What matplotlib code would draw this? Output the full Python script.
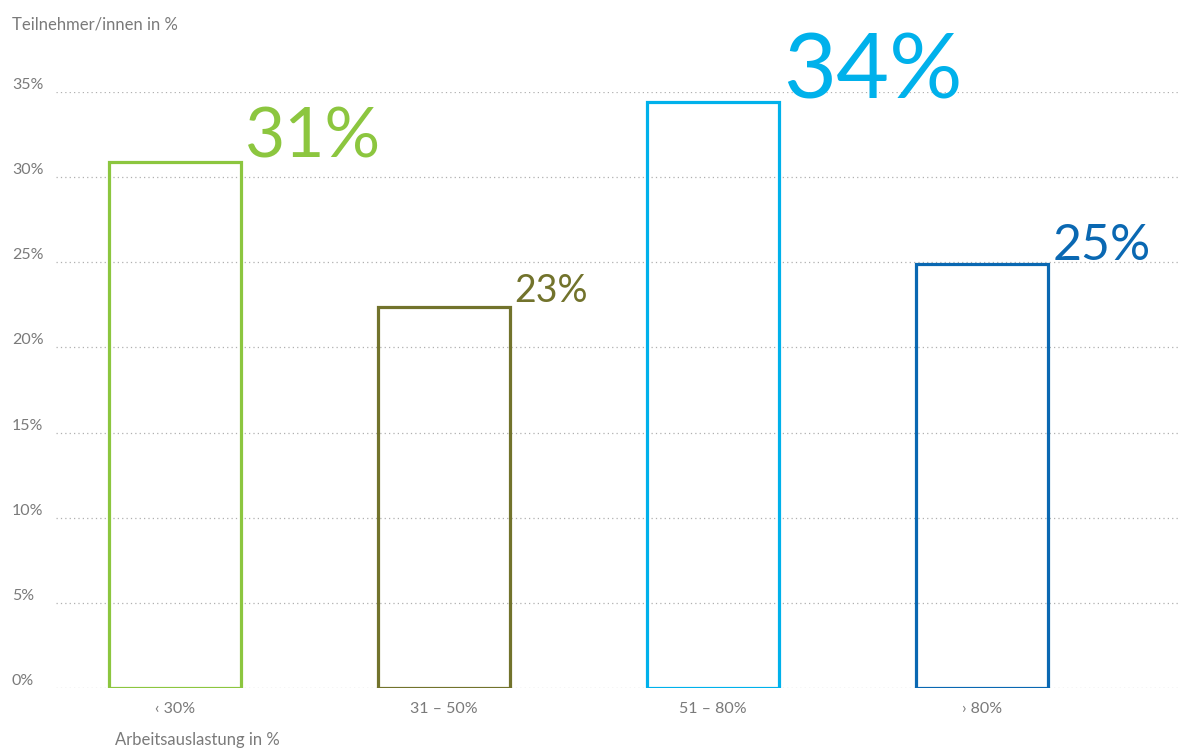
import numpy as np
import matplotlib.pyplot as plt

categories = ['‹ 30%', '31 – 50%', '51 – 80%', '› 80%']
values = [30.9, 22.4, 34.4, 24.9]
value_labels = ['31%', '23%', '34%', '25%']
label_sizes = [50, 27, 66, 36]
colors = ['#8cc63f', '#72732c', '#00b1eb', '#0a68b2']
yticks = [0, 5, 10, 15, 20, 25, 30, 35]

plt.rcParams['font.family'] = ['Lato', 'DejaVu Sans']
grey = '#7a7a7a'

fig = plt.figure(figsize=(11.79, 7.49), dpi=100)
ax = fig.add_axes([56 / 1179, 61 / 749, 1 - 56 / 1179, 596 / 749])

x = np.arange(len(categories))
width = 0.49
ax.bar(x, values, width=width, facecolor='none', edgecolor=colors, linewidth=2.3, zorder=3)

# Werte rechts oben neben den Balken
for xi, v, lab, s, c in zip(x, values, value_labels, label_sizes, colors):
    ax.annotate(lab, (xi + width / 2, v), xytext=(3, 3), textcoords='offset points',
                ha='left', va='baseline', fontsize=s, color=c, fontweight='normal')

ax.set_xlim(-0.442, 3.732)
ax.set_ylim(0, 35)
ax.set_yticks(yticks)
ax.set_yticklabels([f'{t}%' for t in yticks])
ax.set_xticks(x)
ax.set_xticklabels(categories)
ax.tick_params(axis='both', length=0, colors=grey, labelsize=11.5)
ax.tick_params(axis='y', pad=0)
for lab in ax.get_yticklabels():
    lab.set_horizontalalignment('left')
    lab.set_x(-44 / 1123)
    lab.set_verticalalignment('bottom')
ax.tick_params(axis='x', pad=10)

ax.grid(axis='y', ls=(0, (1, 2.5)), color='#b0b0b0', lw=0.9, zorder=0)
for spine in ax.spines.values():
    spine.set_visible(False)

fig.text(12 / 1179, 1 - 25 / 749, 'Teilnehmer/innen in %', color=grey, fontsize=12, va='center')
fig.text(115 / 1179, 1 - 740 / 749, 'Arbeitsauslastung in %', color=grey, fontsize=12, va='center')

fig.savefig('out.png', dpi=100)
